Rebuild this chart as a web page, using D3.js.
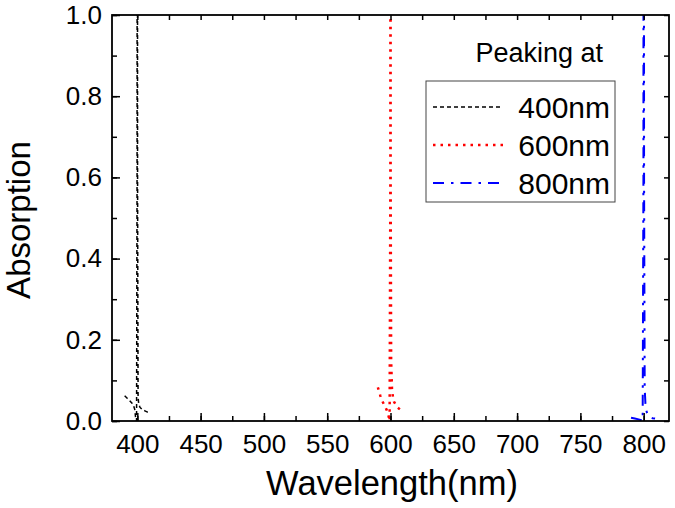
<!DOCTYPE html>
<html>
<head>
<meta charset="utf-8">
<script src="https://cdn.jsdelivr.net/npm/d3@7"></script>
<style>
  body { margin: 0; background: #fff; }
  svg { display: block; font-family: "Liberation Sans", Arial, sans-serif; }
  .axis path { display: none; }
  .axis line { stroke: #000; stroke-width: 1.5; }
  .axis text { font-size: 26px; fill: #000; }
</style>
</head>
<body>
<div id="chart"></div>
<script>
// spectra (wavelength in nm, absorption)
const wl400 = [390, 392, 394, 396, 397, 398, 398.8, 399.4, 399.8, 400, 400.2, 400.6, 401, 402, 404, 406, 408, 410];
const abs400 = [0.062, 0.056, 0.050, 0.043, 0.038, 0.028, 0.004, 0.0, 0.6, 3.0, 0.6, 0.06, 0.045, 0.034, 0.028, 0.025, 0.022, 0.020];

const wl600 = [590, 591, 592, 593, 594, 596, 597, 598.5, 599.3, 599.9, 600, 600.1, 600.5, 601.2, 602, 602.7, 605, 608];
const abs600 = [0.083, 0.073, 0.062, 0.053, 0.046, 0.034, 0.027, 0.012, 0.0, 0.6, 3.0, 0.6, 0.15, 0.076, 0.058, 0.048, 0.035, 0.027];

const wl800 = [790, 793, 796, 798, 799.2, 799.8, 800, 800.3, 800.8, 801.5, 802, 803, 804.5, 807, 809];
const abs800 = [0.008, 0.006, 0.004, 0.002, 0.0, 0.6, 3.0, 0.6, 0.08, 0.035, 0.027, 0.016, 0.010, 0.007, 0.006];

const seriesNames = ["400nm", "600nm", "800nm"];
const seriesColors = ["#000000", "#ff0000", "#0000ff"];
const seriesDash = ["4,3", "2.5,5", "11,7,2.5,7"];
const seriesWidth = [1.5, 2.5, 2];

const xMajor = [400, 450, 500, 550, 600, 650, 700, 750, 800];
const xMinor = [400, 425, 450, 475, 500, 525, 550, 575, 600, 625, 650, 675, 700, 725, 750, 775, 800];
const yMajor = [0, 0.2, 0.4, 0.6, 0.8, 1.0];
const yMinor = [0, 0.1, 0.2, 0.3, 0.4, 0.5, 0.6, 0.7, 0.8, 0.9, 1.0];

const W = 675, H = 508;
const margin = {top: 15, right: 6, bottom: 87, left: 112};
const width = W - margin.left - margin.right;
const height = H - margin.top - margin.bottom;

const svg = d3.select("#chart").append("svg")
    .attr("width", W)
    .attr("height", H);

const g = svg.append("g")
    .attr("transform", `translate(${margin.left},${margin.top})`);

const x = d3.scaleLinear().domain([380, 820]).range([0, width]);
const y = d3.scaleLinear().domain([0, 1]).range([height, 0]);

g.append("clipPath").attr("id", "clip")
  .append("rect").attr("width", width).attr("height", height);

// spectra
const spectra = [
    wl400.map((w, i) => [w, abs400[i]]),
    wl600.map((w, i) => [w, abs600[i]]),
    wl800.map((w, i) => [w, abs800[i]])
];
const line = d3.line().x(d => x(d[0])).y(d => y(d[1]));

g.append("g").attr("clip-path", "url(#clip)")
  .selectAll("path")
  .data(spectra)
  .join("path")
    .attr("d", line)
    .attr("fill", "none")
    .attr("stroke", (d, i) => seriesColors[i])
    .attr("stroke-width", (d, i) => seriesWidth[i])
    .attr("stroke-dasharray", (d, i) => seriesDash[i]);

// axes, ticks pointing inwards
g.append("g").attr("class", "axis")
    .attr("transform", `translate(0,${height})`)
    .call(d3.axisBottom(x).tickValues(xMinor).tickSize(-5).tickFormat(""));
g.append("g").attr("class", "axis")
    .attr("transform", `translate(0,${height})`)
    .call(d3.axisBottom(x).tickValues(xMajor).tickSize(-8).tickPadding(13.5).tickFormat(d3.format("d")));
g.append("g").attr("class", "axis")
    .call(d3.axisTop(x).tickValues(xMinor).tickSize(-5).tickFormat(""));

g.append("g").attr("class", "axis")
    .call(d3.axisLeft(y).tickValues(yMinor).tickSize(-5).tickFormat(""));
g.append("g").attr("class", "axis")
    .call(d3.axisLeft(y).tickValues(yMajor).tickSize(-8).tickPadding(10).tickFormat(d3.format(".1f")));
g.append("g").attr("class", "axis")
    .attr("transform", `translate(${width},0)`)
    .call(d3.axisRight(y).tickValues(yMinor).tickSize(-5).tickFormat(""));

// frame
g.append("rect")
    .attr("width", width)
    .attr("height", height)
    .attr("fill", "none")
    .attr("stroke", "#000")
    .attr("stroke-width", 1.8);

// axis titles
svg.append("text")
    .attr("x", 392)
    .attr("y", 495)
    .attr("text-anchor", "middle")
    .style("font-size", "34.5px")
    .text("Wavelength(nm)");

svg.append("text")
    .attr("transform", "translate(30,220) rotate(-90)")
    .attr("text-anchor", "middle")
    .style("font-size", "33px")
    .text("Absorption");

// legend
svg.append("text")
    .attr("x", 603)
    .attr("y", 62)
    .attr("text-anchor", "end")
    .style("font-size", "27px")
    .text("Peaking at");

svg.append("rect")
    .attr("x", 426)
    .attr("y", 81)
    .attr("width", 189)
    .attr("height", 121)
    .attr("fill", "#fff")
    .attr("stroke", "#444")
    .attr("stroke-width", 1);

const leg = svg.append("g").selectAll("g")
    .data(seriesNames)
    .join("g")
    .attr("transform", (d, i) => `translate(0,${107 + i * 38})`);

leg.append("line")
    .attr("x1", 433).attr("x2", 503)
    .attr("stroke", (d, i) => seriesColors[i])
    .attr("stroke-width", (d, i) => seriesWidth[i])
    .attr("stroke-dasharray", (d, i) => seriesDash[i]);

leg.append("text")
    .attr("x", 610)
    .attr("y", 11)
    .attr("text-anchor", "end")
    .style("font-size", "30px")
    .text(d => d);
</script>
</body>
</html>
